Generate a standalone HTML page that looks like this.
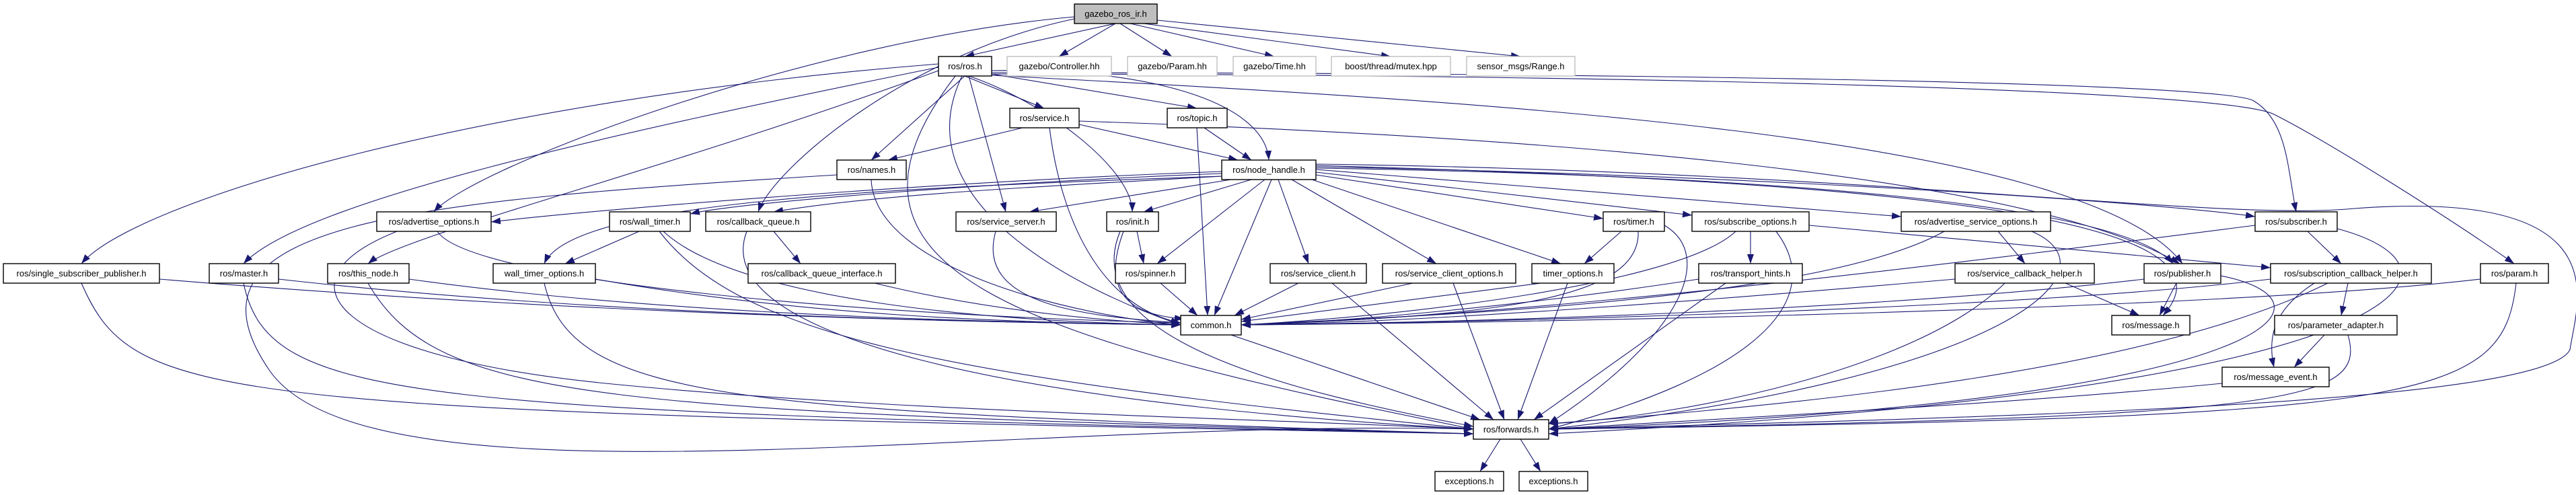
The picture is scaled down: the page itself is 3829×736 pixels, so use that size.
<!DOCTYPE html>
<html><head><meta charset="utf-8"><style>
html,body{margin:0;padding:0;background:#fff;}
svg{display:block;}
text{font-family:"Liberation Sans",sans-serif;font-size:13px;text-anchor:middle;fill:#000;}
.e{fill:none;stroke:#191970;stroke-width:1.1;marker-end:url(#ah);}
.n{fill:#fff;stroke:#000;stroke-width:1.4;}
.g{fill:#fff;stroke:#bfbfbf;stroke-width:1.4;}
</style></head><body>
<svg width="3829" height="736" viewBox="0 0 3829 736" xmlns="http://www.w3.org/2000/svg">
<defs><marker id="ah" markerUnits="userSpaceOnUse" markerWidth="14" markerHeight="10" refX="14" refY="5" orient="auto"><path d="M0,0 L14,5 L0,10 z" fill="#191970"/></marker></defs>
<g>
<path class="e" d="M1658,35 L1434,84"/>
<path class="e" d="M1658,35 L1574,84"/>
<path class="e" d="M1665,35 L1742,84"/>
<path class="e" d="M1680,35 L1894,84"/>
<path class="e" d="M1700,35 L2067,84"/>
<path class="e" d="M1720,30 L2260,84"/>
<path class="e" d="M1597,25 C1200,60 700,250 645,315"/>
<path class="e" d="M1597,28 C1350,80 1150,250 1127,315"/>
<path class="e" d="M1434,113 L1552,161"/>
<path class="e" d="M1474,110 L1779,161"/>
<path class="e" d="M1434,113 L1295,238"/>
<path class="e" d="M1474,105 C1700,100 1880,150 1886,238"/>
<path class="e" d="M1440,113 C1550,150 1683,250 1683,315"/>
<path class="e" d="M1440,113 L1495,315"/>
<path class="e" d="M1430,113 C1340,300 1600,430 1755,483"/>
<path class="e" d="M1395,95 C700,150 200,300 121,392"/>
<path class="e" d="M1395,100 C900,200 450,300 362,392"/>
<path class="e" d="M1395,105 C1000,250 600,350 547,392"/>
<path class="e" d="M1474,108 C2300,108 3300,120 3350,150 S3400,250 3413,315"/>
<path class="e" d="M1474,110 C2300,110 3300,130 3380,170 S3650,330 3737,392"/>
<path class="e" d="M1420,113 C1200,400 1500,500 2190,638"/>
<path class="e" d="M1474,112 C2200,150 3100,200 3244,392"/>
<path class="e" d="M1520,190 L1320,238"/>
<path class="e" d="M1604,185 L1840,238"/>
<path class="e" d="M1560,190 C1580,350 1650,460 1755,480"/>
<path class="e" d="M1604,180 C2200,200 3000,250 3240,392"/>
<path class="e" d="M1790,190 L1860,238"/>
<path class="e" d="M1779,190 L1795,469"/>
<path class="e" d="M1295,267 C1300,400 1600,470 1755,483"/>
<path class="e" d="M1244,260 C600,300 250,330 400,550 S1500,620 2190,638"/>
<path class="e" d="M1816,255 C1400,270 900,310 730,330"/>
<path class="e" d="M1816,258 C1500,270 1100,300 1026,318"/>
<path class="e" d="M1816,262 C1500,280 1300,290 1150,315"/>
<path class="e" d="M1830,267 L1530,315"/>
<path class="e" d="M1860,267 L1700,315"/>
<path class="e" d="M1880,267 L1720,392"/>
<path class="e" d="M1890,267 L1805,469"/>
<path class="e" d="M1900,267 L1945,392"/>
<path class="e" d="M1920,267 L2135,392"/>
<path class="e" d="M1950,267 L2320,392"/>
<path class="e" d="M1956,260 L2383,325"/>
<path class="e" d="M1956,256 L2515,320"/>
<path class="e" d="M1956,252 L2826,322"/>
<path class="e" d="M1956,250 C2600,260 3150,300 3230,392"/>
<path class="e" d="M1956,248 C2600,260 3200,300 3352,322"/>
<path class="e" d="M1956,246 C2800,270 3350,320 3215,469"/>
<path class="e" d="M1956,244 C2800,255 3300,330 3500,310 C3900,280 3830,450 3820,520 C3780,600 3000,620 2302,638"/>
<path class="e" d="M1816,262 C1300,280 850,300 809,392"/>
<path class="e" d="M650,344 C700,420 1300,470 1755,480"/>
<path class="e" d="M590,344 C400,420 500,530 900,570 S1800,620 2190,638"/>
<path class="e" d="M950,344 L840,392"/>
<path class="e" d="M986,344 C1100,450 1500,480 1755,483"/>
<path class="e" d="M980,344 C1100,500 1400,560 2190,638"/>
<path class="e" d="M1150,344 L1190,392"/>
<path class="e" d="M1110,344 C1050,500 1500,600 2190,638"/>
<path class="e" d="M1480,344 C1450,450 1600,470 1755,480"/>
<path class="e" d="M1690,344 L1700,392"/>
<path class="e" d="M1670,344 C1630,450 1700,470 1760,474"/>
<path class="e" d="M1665,344 C1600,500 1900,580 2190,634"/>
<path class="e" d="M2410,344 L2355,392"/>
<path class="e" d="M2435,344 C2440,450 2200,470 1845,483"/>
<path class="e" d="M2474,335 C2550,380 2500,500 2302,630"/>
<path class="e" d="M2602,344 L2602,392"/>
<path class="e" d="M2580,344 C2500,420 2100,470 1845,483"/>
<path class="e" d="M2640,344 C2720,450 2600,560 2302,638"/>
<path class="e" d="M2689,335 L3375,398"/>
<path class="e" d="M2970,344 L3010,392"/>
<path class="e" d="M2890,344 C2700,450 2100,470 1845,483"/>
<path class="e" d="M3020,344 C3150,400 3000,560 2302,638"/>
<path class="e" d="M3430,344 L3480,392"/>
<path class="e" d="M3352,335 C3000,380 2300,470 1845,483"/>
<path class="e" d="M3474,340 C3700,400 3600,580 2302,645"/>
<path class="e" d="M237,415 C900,470 1500,480 1755,483"/>
<path class="e" d="M121,421 C200,600 300,610 2190,645"/>
<path class="e" d="M414,415 C900,470 1500,480 1755,483"/>
<path class="e" d="M362,421 C400,600 600,610 2190,645"/>
<path class="e" d="M608,415 C1000,470 1500,480 1755,483"/>
<path class="e" d="M547,421 C650,600 900,610 2190,645"/>
<path class="e" d="M885,415 C1200,470 1500,480 1755,483"/>
<path class="e" d="M809,421 C850,600 1100,610 2190,645"/>
<path class="e" d="M1300,421 C1500,470 1700,480 1755,483"/>
<path class="e" d="M1725,421 L1780,469"/>
<path class="e" d="M1930,421 L1835,469"/>
<path class="e" d="M1980,421 L2220,624"/>
<path class="e" d="M2100,421 L1845,475"/>
<path class="e" d="M2160,421 L2236,624"/>
<path class="e" d="M2290,421 L1845,478"/>
<path class="e" d="M2330,421 L2256,624"/>
<path class="e" d="M2525,415 C2300,450 2000,480 1845,483"/>
<path class="e" d="M2565,421 L2280,624"/>
<path class="e" d="M3070,421 L3180,469"/>
<path class="e" d="M2906,415 C2500,450 2100,480 1845,483"/>
<path class="e" d="M2980,421 C2850,550 2500,620 2302,630"/>
<path class="e" d="M3235,421 L3210,469"/>
<path class="e" d="M3187,415 C2800,460 2200,480 1845,483"/>
<path class="e" d="M3301,410 C3500,450 3380,600 2302,638"/>
<path class="e" d="M3490,421 L3480,469"/>
<path class="e" d="M3440,421 C3380,460 3370,500 3380,546"/>
<path class="e" d="M3375,415 C3000,460 2200,480 1845,483"/>
<path class="e" d="M3460,421 C3200,550 2700,600 2302,630"/>
<path class="e" d="M3687,415 C3300,460 2300,480 1845,483"/>
<path class="e" d="M3740,421 C3720,600 3600,620 2302,638"/>
<path class="e" d="M3455,498 L3410,546"/>
<path class="e" d="M3490,498 C3520,600 3400,620 2302,638"/>
<path class="e" d="M3303,570 C3000,600 2600,620 2302,638"/>
<path class="e" d="M1830,498 L2200,624"/>
<path class="e" d="M2230,653 L2200,701"/>
<path class="e" d="M2260,653 L2290,701"/>
</g>
<g>
<rect x="1597" y="6" width="123" height="29" fill="#bfbfbf" stroke="#000" stroke-width="1.4"/><text x="1658.5" y="25">gazebo_ros_ir.h</text>
<rect class="n" x="1395" y="84" width="79" height="29"/><text x="1434.5" y="103">ros/ros.h</text>
<rect class="g" x="1497" y="84" width="155" height="29"/><text x="1574.5" y="103">gazebo/Controller.hh</text>
<rect class="g" x="1676" y="84" width="133" height="29"/><text x="1742.5" y="103">gazebo/Param.hh</text>
<rect class="g" x="1833" y="84" width="123" height="29"/><text x="1894.5" y="103">gazebo/Time.hh</text>
<rect class="g" x="1979" y="84" width="177" height="29"/><text x="2067.5" y="103">boost/thread/mutex.hpp</text>
<rect class="g" x="2180" y="84" width="161" height="29"/><text x="2260.5" y="103">sensor_msgs/Range.h</text>
<rect class="n" x="1501" y="161" width="103" height="29"/><text x="1552.5" y="180">ros/service.h</text>
<rect class="n" x="1735" y="161" width="89" height="29"/><text x="1779.5" y="180">ros/topic.h</text>
<rect class="n" x="1244" y="238" width="103" height="29"/><text x="1295.5" y="257">ros/names.h</text>
<rect class="n" x="1816" y="238" width="140" height="29"/><text x="1886" y="257">ros/node_handle.h</text>
<rect class="n" x="560" y="315" width="170" height="29"/><text x="645" y="334">ros/advertise_options.h</text>
<rect class="n" x="906" y="315" width="120" height="29"/><text x="966" y="334">ros/wall_timer.h</text>
<rect class="n" x="1049" y="315" width="156" height="29"/><text x="1127" y="334">ros/callback_queue.h</text>
<rect class="n" x="1421" y="315" width="149" height="29"/><text x="1495.5" y="334">ros/service_server.h</text>
<rect class="n" x="1645" y="315" width="77" height="29"/><text x="1683.5" y="334">ros/init.h</text>
<rect class="n" x="2383" y="315" width="91" height="29"/><text x="2428.5" y="334">ros/timer.h</text>
<rect class="n" x="2515" y="315" width="174" height="29"/><text x="2602" y="334">ros/subscribe_options.h</text>
<rect class="n" x="2826" y="315" width="222" height="29"/><text x="2937" y="334">ros/advertise_service_options.h</text>
<rect class="n" x="3352" y="315" width="122" height="29"/><text x="3413" y="334">ros/subscriber.h</text>
<rect class="n" x="5" y="392" width="232" height="29"/><text x="121" y="411">ros/single_subscriber_publisher.h</text>
<rect class="n" x="311" y="392" width="103" height="29"/><text x="362.5" y="411">ros/master.h</text>
<rect class="n" x="487" y="392" width="121" height="29"/><text x="547.5" y="411">ros/this_node.h</text>
<rect class="n" x="733" y="392" width="152" height="29"/><text x="809" y="411">wall_timer_options.h</text>
<rect class="n" x="1112" y="392" width="219" height="29"/><text x="1221.5" y="411">ros/callback_queue_interface.h</text>
<rect class="n" x="1658" y="392" width="104" height="29"/><text x="1710" y="411">ros/spinner.h</text>
<rect class="n" x="1888" y="392" width="143" height="29"/><text x="1959.5" y="411">ros/service_client.h</text>
<rect class="n" x="2055" y="392" width="198" height="29"/><text x="2154" y="411">ros/service_client_options.h</text>
<rect class="n" x="2277" y="392" width="122" height="29"/><text x="2338" y="411">timer_options.h</text>
<rect class="n" x="2525" y="392" width="154" height="29"/><text x="2602" y="411">ros/transport_hints.h</text>
<rect class="n" x="2906" y="392" width="207" height="29"/><text x="3009.5" y="411">ros/service_callback_helper.h</text>
<rect class="n" x="3187" y="392" width="114" height="29"/><text x="3244" y="411">ros/publisher.h</text>
<rect class="n" x="3375" y="392" width="239" height="29"/><text x="3494.5" y="411">ros/subscription_callback_helper.h</text>
<rect class="n" x="3687" y="392" width="101" height="29"/><text x="3737.5" y="411">ros/param.h</text>
<rect class="n" x="1755" y="469" width="90" height="29"/><text x="1800" y="488">common.h</text>
<rect class="n" x="3139" y="469" width="116" height="29"/><text x="3197" y="488">ros/message.h</text>
<rect class="n" x="3381" y="469" width="182" height="29"/><text x="3472" y="488">ros/parameter_adapter.h</text>
<rect class="n" x="3303" y="546" width="159" height="29"/><text x="3382.5" y="565">ros/message_event.h</text>
<rect class="n" x="2190" y="624" width="112" height="29"/><text x="2246" y="643">ros/forwards.h</text>
<rect class="n" x="2133" y="701" width="102" height="29"/><text x="2184" y="720">exceptions.h</text>
<rect class="n" x="2258" y="701" width="102" height="29"/><text x="2309" y="720">exceptions.h</text>
</g>
</svg>
</body></html>
